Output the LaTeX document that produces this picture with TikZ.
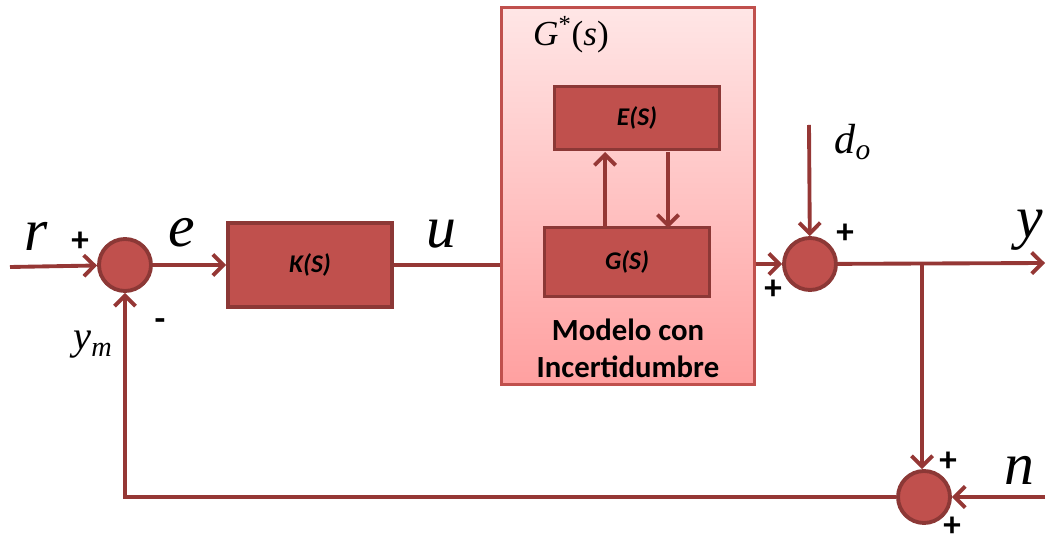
\documentclass[tikz,border=0pt]{standalone}
\usepackage{fontspec}
\setmainfont{Liberation Serif}
\newfontfamily\boxfont{Carlito}
\usetikzlibrary{arrows.meta}
\definecolor{blockRed}{RGB}{192,80,77}
\definecolor{edgeRed}{RGB}{140,56,54}
\definecolor{lineRed}{RGB}{149,55,53}
\tikzstyle{blockBox}=[shape = rectangle, fill = blockRed, draw = edgeRed, line width = 2.2pt, font = \boxfont\bfseries\itshape\fontsize{14.5}{16}\selectfont]
\tikzstyle{sumNode}=[shape = circle, minimum size = 1.04cm, inner sep = 0pt, fill = blockRed, draw = edgeRed, line width = 2.2pt]
\tikzstyle{signal}=[draw = lineRed, line width = 2.2pt]
\tikzstyle{sigArrow}=[signal, -{Straight Barb[length=6pt,width=12pt]}]
\tikzstyle{sigLabel}=[font = \itshape\fontsize{34}{36}\selectfont]
\tikzstyle{signMark}=[font = \boxfont\bfseries\fontsize{20}{20}\selectfont]

\begin{document}
\begin{tikzpicture}[x = 0.02cm, y = -0.02cm]
\useasboundingbox (0,0) rectangle (1048,543);
% uncertain model
\node[shape = rectangle, minimum width = 5.06cm, minimum height = 7.54cm, draw = blockRed, line width = 1.2pt, top color = {rgb,255:red,255;green,230;blue,230}, bottom color = {rgb,255:red,255;green,160;blue,160}] (Gstar) at (628,196) {};
\node[font = \fontsize{20}{22}\selectfont] (Gstarlabel) at (571,35) {\textit{G}\textsuperscript{*}(\textit{s})};
\node[blockBox, minimum width = 3.3cm, minimum height = 1.26cm] (E) at (637,118) {E(S)};
\node[blockBox, minimum width = 3.3cm, minimum height = 1.38cm] (G) at (627,262) {G(S)};
\node[font = \boxfont\bfseries\fontsize{17.5}{21}\selectfont, align = center] (model) at (628,348) {Modelo con\\Incertidumbre};
\draw[sigArrow] (605,228) -- (605,152);
\draw[sigArrow] (668,152) -- (668,228);
% loop
\node[sumNode] (sum1) at (125,265) {};
\node[blockBox, minimum width = 3.28cm, minimum height = 1.68cm] (K) at (310,265) {K(S)};
\node[sumNode] (sum2) at (810,264) {};
\node[sumNode] (sum3) at (924,497) {};
\coordinate (rin) at (10,267);
\coordinate (dIn) at (809,125);
\coordinate (yOut) at (1045,263);
\coordinate (nIn) at (1045,497);
\coordinate (branch) at (922,264);
\coordinate (corner) at (125,497);
\draw[sigArrow] (rin) -- (sum1);
\draw[sigArrow] (sum1) -- (K);
\draw[signal] (K.east) -- (Gstar.west |- K.east);
\draw[sigArrow] (Gstar.east |- sum2) -- (sum2);
\draw[sigArrow] (dIn) -- (sum2);
\draw[sigArrow] (sum2) -- (yOut);
\draw[sigArrow] (branch) -- (branch |- sum3.north);
\draw[sigArrow] (nIn) -- (sum3);
\draw[sigArrow] (sum3) -- (corner) -- (sum1);
% labels
\node[sigLabel] (rlabel) at (36,236) {r};
\node[sigLabel] (elabel) at (182,233) {e};
\node[sigLabel] (ulabel) at (441,234) {u};
\node[sigLabel] (ylabel) at (1030,230) {y};
\node[sigLabel] (nlabel) at (1019,470) {n};
\node[font = \itshape\fontsize{24}{26}\selectfont] (dlabel) at (853,142) {d\textsubscript{o}};
\node[font = \itshape\fontsize{23}{25}\selectfont] (ymlabel) at (93,345) {y\textsubscript{m}};
\node[signMark] at (80,242) {+};
\node[signMark] at (160,325) {-};
\node[signMark] at (845,234) {+};
\node[signMark] at (773,290) {+};
\node[signMark] at (948,462) {+};
\node[signMark] at (952,527) {+};
\end{tikzpicture}
\end{document}
